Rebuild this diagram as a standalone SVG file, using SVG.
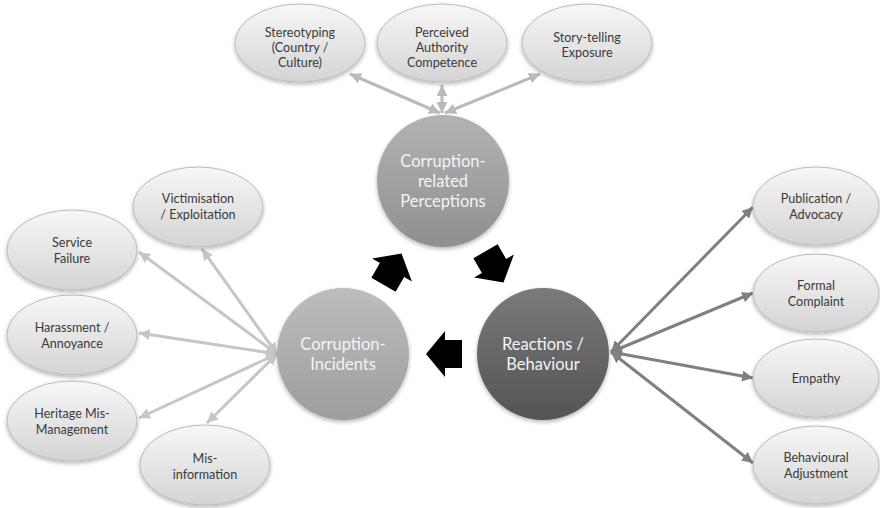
<svg xmlns="http://www.w3.org/2000/svg" width="880" height="508" viewBox="0 0 880 508">
  <defs>
    <linearGradient id="gEll" x1="0" y1="0" x2="0" y2="1">
      <stop offset="0" stop-color="#f7f7f7"/>
      <stop offset="1" stop-color="#d4d4d4"/>
    </linearGradient>
    <linearGradient id="gPer" x1="0" y1="0" x2="0" y2="1">
      <stop offset="0" stop-color="#b3b3b3"/>
      <stop offset="1" stop-color="#8f8f8f"/>
    </linearGradient>
    <linearGradient id="gInc" x1="0" y1="0" x2="0" y2="1">
      <stop offset="0" stop-color="#bdbdbd"/>
      <stop offset="1" stop-color="#9d9d9d"/>
    </linearGradient>
    <linearGradient id="gRea" x1="0" y1="0" x2="0" y2="1">
      <stop offset="0" stop-color="#7a7a7a"/>
      <stop offset="1" stop-color="#545454"/>
    </linearGradient>
    <filter id="shadow" x="-20%" y="-20%" width="140%" height="150%">
      <feGaussianBlur in="SourceAlpha" stdDeviation="2"/>
      <feOffset dx="0" dy="2" result="b"/>
      <feComponentTransfer><feFuncA type="linear" slope="0.3"/></feComponentTransfer>
      <feMerge><feMergeNode/><feMergeNode in="SourceGraphic"/></feMerge>
    </filter>
    <marker id="mTop" viewBox="0 0 10 10" refX="10" refY="5" markerWidth="11" markerHeight="11" markerUnits="userSpaceOnUse" orient="auto-start-reverse">
      <path d="M0,0 L10,5 L0,10 z" fill="#bababa"/>
    </marker>
    <marker id="mLeft" viewBox="0 0 10 10" refX="10" refY="5" markerWidth="11" markerHeight="11" markerUnits="userSpaceOnUse" orient="auto-start-reverse">
      <path d="M0,0 L10,5 L0,10 z" fill="#c6c6c6"/>
    </marker>
    <marker id="mRight" viewBox="0 0 10 10" refX="10" refY="5" markerWidth="11" markerHeight="11" markerUnits="userSpaceOnUse" orient="auto-start-reverse">
      <path d="M0,0 L10,5 L0,10 z" fill="#808080"/>
    </marker>
    <!-- block arrow pointing along +x, origin at head base -->
    <path id="blockArrow" d="M19,0 L0,-23 L0,-14 L-17,-14 L-17,14 L0,14 L0,23 z"/>
  </defs>
  <style>
    .ell { fill: url(#gEll); stroke: #bcbcbc; stroke-width: 1; filter: url(#shadow); }
    .lbl { font-family: Lato, "Open Sans", "Liberation Sans", sans-serif; font-size: 12.6px; fill: #3a3a3a; text-anchor: middle; }
    .big { font-family: Lato, "Open Sans", "Liberation Sans", sans-serif; font-size: 16.5px; fill: #f4f4f4; text-anchor: middle; }
    .cTop { stroke: #bababa; stroke-width: 3; fill: none; marker-start: url(#mTop); marker-end: url(#mTop); }
    .cLeft { stroke: #c6c6c6; stroke-width: 3; fill: none; marker-start: url(#mLeft); marker-end: url(#mLeft); }
    .cRight { stroke: #808080; stroke-width: 3; fill: none; marker-start: url(#mRight); marker-end: url(#mRight); }
  </style>

  <!-- connectors -->
  <g id="connectors">
    <line class="cTop" x1="440" y1="113" x2="350" y2="74"/>
    <line class="cTop" x1="442" y1="113" x2="442" y2="85"/>
    <line class="cTop" x1="445" y1="113" x2="540" y2="74"/>

    <line class="cLeft" x1="277" y1="354" x2="202" y2="249"/>
    <line class="cLeft" x1="277" y1="354" x2="139" y2="252"/>
    <line class="cLeft" x1="277" y1="354" x2="139" y2="333"/>
    <line class="cLeft" x1="277" y1="354" x2="139" y2="418"/>
    <line class="cLeft" x1="277" y1="354" x2="207" y2="423"/>

    <line class="cRight" x1="611" y1="352" x2="753" y2="207"/>
    <line class="cRight" x1="611" y1="352" x2="753" y2="293"/>
    <line class="cRight" x1="611" y1="352" x2="753" y2="378"/>
    <line class="cRight" x1="611" y1="352" x2="753" y2="463"/>
  </g>

  <!-- cycle arrows -->
  <g id="cycleArrows" fill="#000">
    <use href="#blockArrow" transform="translate(392,270) rotate(-60)"/>
    <use href="#blockArrow" transform="translate(494,266) rotate(60)"/>
    <use href="#blockArrow" transform="translate(445,354) rotate(180)"/>
  </g>

  <!-- central circles -->
  <g id="perceptions">
    <circle cx="443" cy="181" r="66" fill="url(#gPer)" filter="url(#shadow)"/>
    <text class="big" x="443" y="167">Corruption-</text>
    <text class="big" x="443" y="187">related</text>
    <text class="big" x="443" y="207">Perceptions</text>
  </g>
  <g id="incidents">
    <circle cx="343" cy="354" r="66" fill="url(#gInc)" filter="url(#shadow)"/>
    <text class="big" x="343" y="350">Corruption-</text>
    <text class="big" x="343" y="370">Incidents</text>
  </g>
  <g id="reactions">
    <circle cx="543" cy="354" r="66" fill="url(#gRea)" filter="url(#shadow)"/>
    <text class="big" x="543" y="350">Reactions /</text>
    <text class="big" x="543" y="370">Behaviour</text>
  </g>

  <!-- perception factors -->
  <g id="stereotyping">
    <ellipse class="ell" cx="300" cy="43" rx="65" ry="39"/>
    <text class="lbl" x="300" y="36.5">Stereotyping</text>
    <text class="lbl" x="300" y="51.5">(Country /</text>
    <text class="lbl" x="300" y="66.5">Culture)</text>
  </g>
  <g id="authority">
    <ellipse class="ell" cx="442" cy="43" rx="65" ry="39"/>
    <text class="lbl" x="442" y="36.5">Perceived</text>
    <text class="lbl" x="442" y="51.5">Authority</text>
    <text class="lbl" x="442" y="66.5">Competence</text>
  </g>
  <g id="storytelling">
    <ellipse class="ell" cx="587" cy="43" rx="65" ry="39"/>
    <text class="lbl" x="587" y="41.5">Story-telling</text>
    <text class="lbl" x="587" y="57">Exposure</text>
  </g>

  <!-- incident types -->
  <g id="victimisation">
    <ellipse class="ell" cx="198" cy="207" rx="65" ry="40"/>
    <text class="lbl" x="198" y="203">Victimisation</text>
    <text class="lbl" x="198" y="219">/ Exploitation</text>
  </g>
  <g id="serviceFailure">
    <ellipse class="ell" cx="72" cy="250" rx="65" ry="40"/>
    <text class="lbl" x="72" y="247">Service</text>
    <text class="lbl" x="72" y="263">Failure</text>
  </g>
  <g id="harassment">
    <ellipse class="ell" cx="72" cy="335" rx="65" ry="40"/>
    <text class="lbl" x="72" y="332">Harassment /</text>
    <text class="lbl" x="72" y="348">Annoyance</text>
  </g>
  <g id="heritage">
    <ellipse class="ell" cx="72" cy="421" rx="65" ry="40"/>
    <text class="lbl" x="72" y="418">Heritage Mis-</text>
    <text class="lbl" x="72" y="434">Management</text>
  </g>
  <g id="misinformation">
    <ellipse class="ell" cx="205" cy="465" rx="65" ry="40"/>
    <text class="lbl" x="205" y="463">Mis-</text>
    <text class="lbl" x="205" y="479">information</text>
  </g>

  <!-- reaction types -->
  <g id="publication">
    <ellipse class="ell" cx="816" cy="206" rx="63" ry="39"/>
    <text class="lbl" x="816" y="203">Publication /</text>
    <text class="lbl" x="816" y="219">Advocacy</text>
  </g>
  <g id="formalComplaint">
    <ellipse class="ell" cx="816" cy="293" rx="63" ry="39"/>
    <text class="lbl" x="816" y="290">Formal</text>
    <text class="lbl" x="816" y="306">Complaint</text>
  </g>
  <g id="empathy">
    <ellipse class="ell" cx="816" cy="378" rx="63" ry="39"/>
    <text class="lbl" x="816" y="383">Empathy</text>
  </g>
  <g id="behavioural">
    <ellipse class="ell" cx="816" cy="465" rx="63" ry="39"/>
    <text class="lbl" x="816" y="462">Behavioural</text>
    <text class="lbl" x="816" y="478">Adjustment</text>
  </g>
</svg>
